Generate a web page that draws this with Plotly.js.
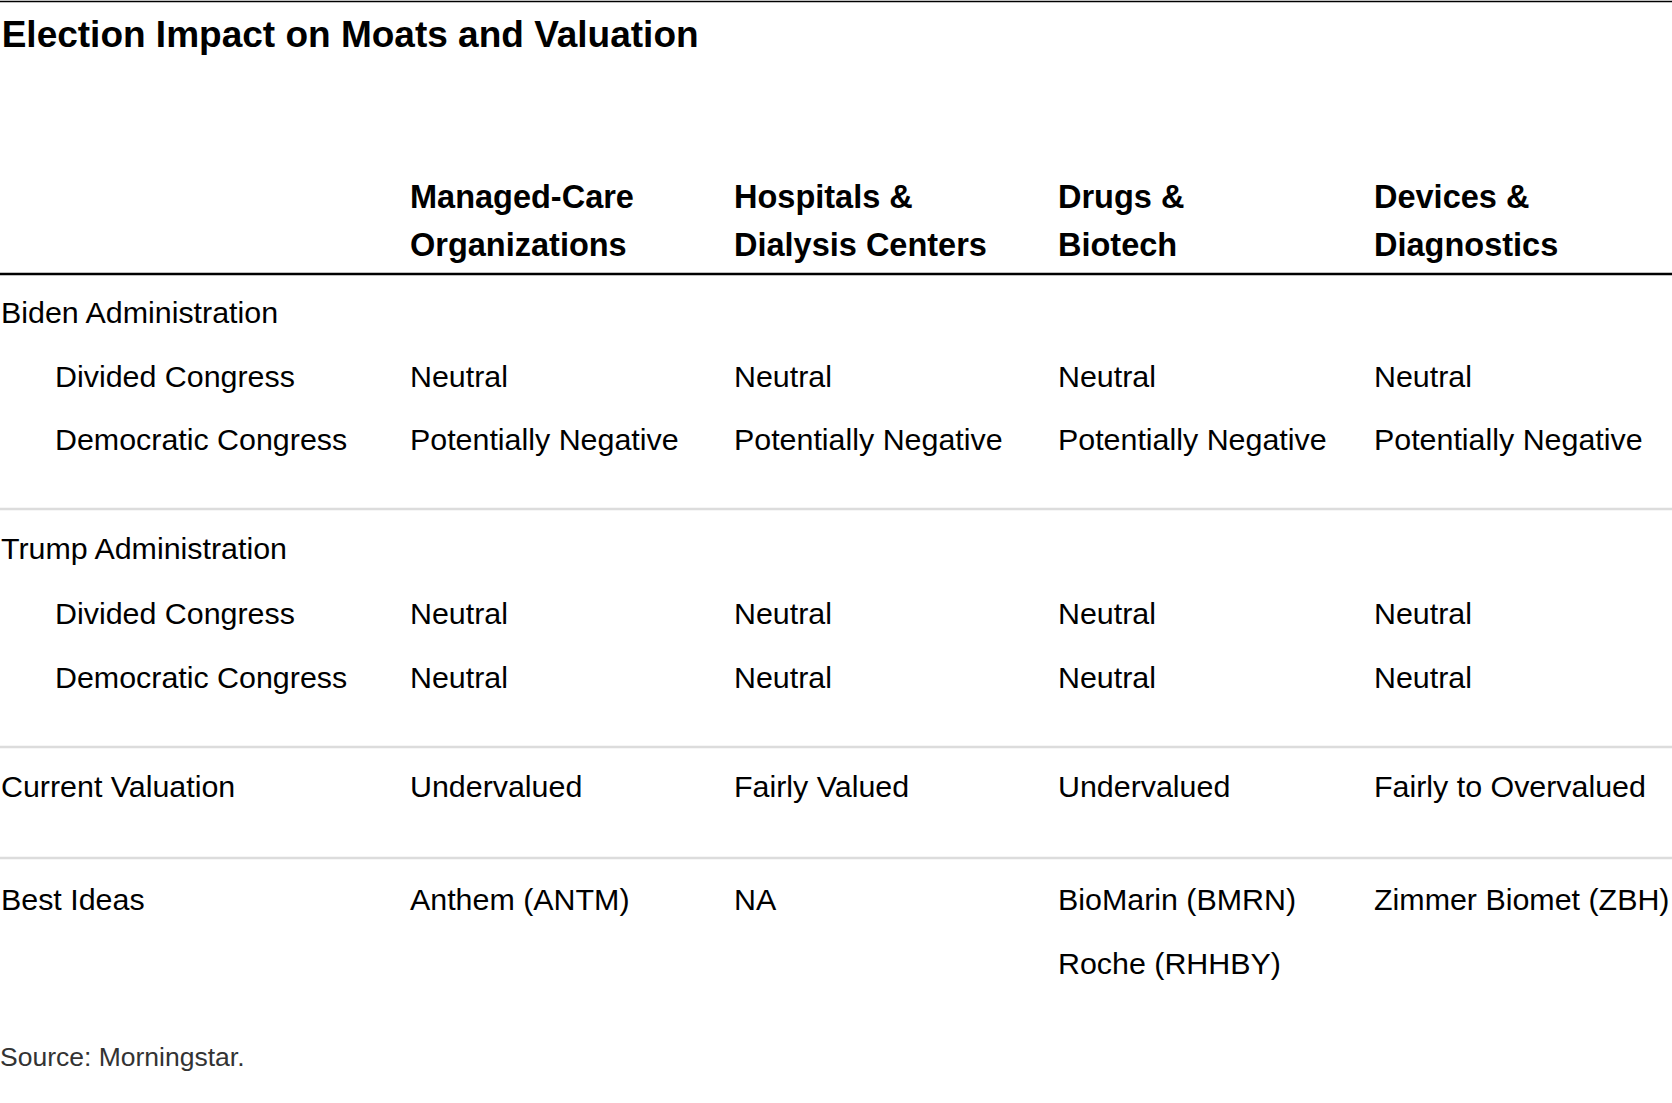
<!DOCTYPE html>
<html>
<head>
<meta charset="utf-8">
<script src="https://cdn.plot.ly/plotly-3.0.1.min.js"></script>
<style>html,body{margin:0;padding:0;background:#fff;}#chart{width:1672px;height:1103px;}</style>
</head>
<body>
<div id="chart"></div>
<script>
// ---- Data ----
const titleText = "Election Impact on Moats and Valuation";
const sourceText = "Source: Morningstar.";
const columnHeaders = [
  ["Managed-Care", "Organizations"],
  ["Hospitals &", "Dialysis Centers"],
  ["Drugs &", "Biotech"],
  ["Devices &", "Diagnostics"]
];
const bidenLabel = "Biden Administration";
const trumpLabel = "Trump Administration";
const subLabels = ["Divided Congress", "Democratic Congress"];
const bidenDivided = ["Neutral", "Neutral", "Neutral", "Neutral"];
const bidenDemocratic = ["Potentially Negative", "Potentially Negative", "Potentially Negative", "Potentially Negative"];
const trumpDivided = ["Neutral", "Neutral", "Neutral", "Neutral"];
const trumpDemocratic = ["Neutral", "Neutral", "Neutral", "Neutral"];
const valuationLabel = "Current Valuation";
const currentValuation = ["Undervalued", "Fairly Valued", "Undervalued", "Fairly to Overvalued"];
const bestIdeasLabel = "Best Ideas";
const bestIdeas = [
  ["Anthem (ANTM)"],
  ["NA"],
  ["BioMarin (BMRN)", "Roche (RHHBY)"],
  ["Zimmer Biomet (ZBH)"]
];

// ---- Layout constants (pixel grid) ----
const W = 1672, H = 1103;
const FONT = "Liberation Sans, Arial, sans-serif";
const colX = [410, 734, 1058, 1374];
const labelX = 1, subX = 55;
const headerY = [197, 245];
const rowY = {
  biden: 312, bidenDiv: 376, bidenDem: 439,
  trump: 548, trumpDiv: 613, trumpDem: 677,
  valuation: 786, best: 899, bestStep: 64, source: 1057
};
const sepY = {top: 1.5, header: 274, gray: [509, 747, 858]};

const annotations = [];
function addText(text, x, y, size, weight, color) {
  annotations.push({
    text: text, x: x, y: y, xref: "x", yref: "y",
    xanchor: "left", yanchor: "middle", showarrow: false,
    borderpad: 0, borderwidth: 0,
    font: {family: FONT, size: size, weight: weight || 400, color: color || "#000"}
  });
}
const BODY = 30.4, HEAD = 32.5;

columnHeaders.forEach((lines, c) => {
  lines.forEach((ln, i) => addText(ln, colX[c], headerY[i], HEAD, 700));
});
addText(bidenLabel, labelX, rowY.biden, BODY);
addText(subLabels[0], subX, rowY.bidenDiv, BODY);
addText(subLabels[1], subX, rowY.bidenDem, BODY);
addText(trumpLabel, labelX, rowY.trump, BODY);
addText(subLabels[0], subX, rowY.trumpDiv, BODY);
addText(subLabels[1], subX, rowY.trumpDem, BODY);
addText(valuationLabel, labelX, rowY.valuation, BODY);
addText(bestIdeasLabel, labelX, rowY.best, BODY);
bidenDivided.forEach((v, c) => addText(v, colX[c], rowY.bidenDiv, BODY));
bidenDemocratic.forEach((v, c) => addText(v, colX[c], rowY.bidenDem, BODY));
trumpDivided.forEach((v, c) => addText(v, colX[c], rowY.trumpDiv, BODY));
trumpDemocratic.forEach((v, c) => addText(v, colX[c], rowY.trumpDem, BODY));
currentValuation.forEach((v, c) => addText(v, colX[c], rowY.valuation, BODY));
bestIdeas.forEach((list, c) => list.forEach((v, i) => addText(v, colX[c], rowY.best + i * rowY.bestStep, BODY)));
addText(sourceText, 0, rowY.source, 26.5, 400, "#333");

const shapes = [];
function hline(y, color, width) {
  shapes.push({type: "line", xref: "paper", x0: 0, x1: 1, yref: "y", y0: y, y1: y,
    line: {color: color, width: width}});
}
hline(sepY.top, "#000", 1.5);
hline(sepY.header, "#000", 2.5);
sepY.gray.forEach(y => hline(y, "#dcdcdc", 2.5));

const layout = {
  width: W, height: H,
  margin: {l: 0, r: 0, t: 0, b: 0, pad: 0},
  paper_bgcolor: "#fff", plot_bgcolor: "#fff",
  showlegend: false,
  title: {
    text: titleText, x: 0.001, xref: "paper", xanchor: "left",
    y: 1 - 34 / H, yref: "paper", yanchor: "middle",
    font: {family: FONT, size: 37, weight: 700, color: "#000"}
  },
  xaxis: {range: [0, W], visible: false, fixedrange: true},
  yaxis: {range: [H, 0], visible: false, fixedrange: true},
  annotations: annotations,
  shapes: shapes
};

Plotly.newPlot("chart", [{x: [], y: [], type: "scatter", mode: "markers", hoverinfo: "skip"}], layout, {displayModeBar: false, staticPlot: true});
</script>
</body>
</html>
